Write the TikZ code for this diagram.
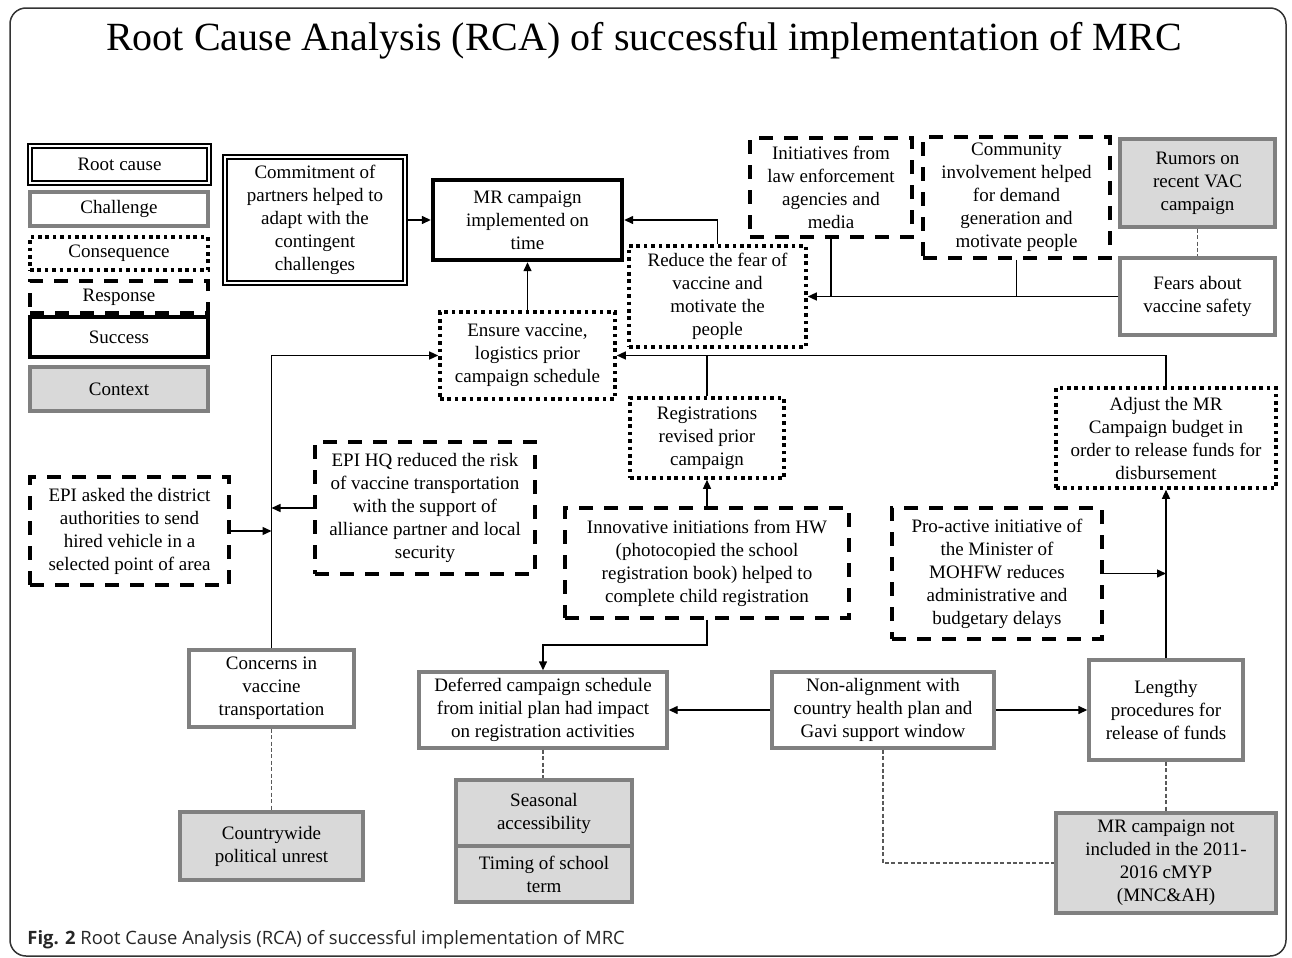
\documentclass[tikz,border=0pt]{standalone}
\usepackage{fontspec}
\setmainfont{Liberation Serif}
\newfontfamily\captfont{Open Sans}
\usetikzlibrary{arrows.meta,calc}
\newcommand\bx[7]{%
 \pgfmathsetmacro\bxw{(#5-#3)*0.5}%
 \pgfmathsetmacro\bxh{(#6-#4)*0.5}%
 \pgfmathsetmacro\bxx{(#3+#5)/2}%
 \pgfmathsetmacro\bxy{(#4+#6)/2}%
 \node[#2,minimum width=\bxw pt,minimum height=\bxh pt] (#1) at (\bxx,\bxy) {#7};}
\begin{document}
\begin{tikzpicture}[x=0.5pt,y=-0.5pt,
  every node/.style={align=center,inner sep=1pt,font=\fontsize{9.5}{11.5}\selectfont},
  rootc/.style={draw=black,double=white,line width=0.8pt,double distance=1.4pt},
  chall/.style={draw=black!50,line width=1.7pt},
  conseq/.style={draw=black,line width=1.8pt,dash pattern=on 1.8pt off 1.9pt},
  resp/.style={draw=black,line width=1.8pt,dash pattern=on 7pt off 5.5pt},
  succ/.style={draw=black,line width=2.2pt},
  ctx/.style={draw=black!50,fill=black!15,line width=1.7pt},
  arr/.style={draw=black,line width=0.7pt,-{Triangle[length=4.5pt,width=4pt]}},
  link/.style={draw=black,line width=0.7pt},
  ctxline/.style={draw=black!65,line width=0.6pt,dash pattern=on 2pt off 1.2pt}]
\useasboundingbox (0,0) rectangle (1292,958);
\draw[black!80,line width=0.75pt,rounded corners=8pt] (10,8) rectangle (1286,956);
\node[font=\fontsize{20}{24}\selectfont] (title) at (644,41) {Root Cause Analysis (RCA) of successful implementation of MRC};
\node[anchor=base west,text=black!85,font=\captfont\fontsize{9.2}{11}\selectfont] (capt) at (25,944) {\textbf{Fig. 2} Root Cause Analysis (RCA) of successful implementation of MRC};
% legend
\bx{Lroot}{rootc}{30}{146}{209}{183}{Root cause}
\bx{Lchal}{chall}{30}{192}{208}{226}{Challenge}
\bx{Lcons}{conseq}{30}{237}{208}{270}{Consequence}
\bx{Lresp}{resp}{30}{281}{208}{313}{Response}
\bx{Lsucc}{succ}{30}{317}{208}{357}{Success}
\bx{Lctx}{ctx}{30}{367}{208}{411}{Context}
% main boxes
\bx{Commit}{rootc}{225}{157}{405}{283}{Commitment of\\partners helped to\\adapt with the\\contingent\\challenges}
\bx{MR}{succ}{433}{180}{622}{260}{MR campaign\\implemented on\\time}
\bx{Init}{resp}{750}{138}{912}{237}{Initiatives from\\law enforcement\\agencies and\\media}
\bx{Comm}{resp}{923}{137}{1110}{258}{Community\\involvement helped\\for demand\\generation and\\motivate people}
\bx{Rumors}{ctx}{1120}{139}{1275}{227}{Rumors on\\recent VAC\\campaign}
\bx{Fears}{chall}{1120}{258}{1275}{335}{Fears about\\vaccine safety}
\bx{Reduce}{conseq}{629}{246}{806}{347}{Reduce the fear of\\vaccine and\\motivate the\\people}
\bx{Ensure}{conseq}{440}{312}{615}{399}{Ensure vaccine,\\logistics prior\\campaign schedule}
\bx{Reg}{conseq}{630}{398}{784}{478}{Registrations\\revised prior\\campaign}
\bx{Adjust}{conseq}{1056}{388}{1276}{488}{Adjust the MR\\Campaign budget in\\order to release funds for\\disbursement}
\bx{EPIa}{resp}{30}{477}{229}{585}{EPI asked the district\\authorities to send\\hired vehicle in a\\selected point of area}
\bx{EPIhq}{resp}{315}{442}{535}{574}{EPI HQ reduced the risk\\of vaccine transportation\\with the support of\\alliance partner and local\\security}
\bx{Innov}{resp}{565}{508}{849}{618}{Innovative initiations from HW\\(photocopied the school\\registration book) helped to\\complete child registration}
\bx{Pro}{resp}{892}{508}{1102}{639}{Pro-active initiative of\\the Minister of\\MOHFW reduces\\administrative and\\budgetary delays}
\bx{Concerns}{chall}{189}{650}{354}{727}{Concerns in\\vaccine\\transportation}
\bx{Deferred}{chall}{419}{672}{667}{748}{Deferred campaign schedule\\from initial plan had impact\\on registration activities}
\bx{NonAl}{chall}{772}{672}{994}{748}{Non-alignment with\\country health plan and\\Gavi support window}
\bx{Lengthy}{chall}{1089}{660}{1243}{760}{Lengthy\\procedures for\\release of funds}
\bx{Country}{ctx}{180}{812}{363}{880}{Countrywide\\political unrest}
\bx{Seasonal}{ctx}{456}{780}{632}{846}{Seasonal\\accessibility}
\bx{Timing}{ctx}{456}{846}{632}{902}{Timing of school\\term}
\bx{MRnot}{ctx}{1056}{813}{1276}{913}{MR campaign not\\included in the 2011-\\2016 cMYP\\(MNC\&AH)}
% connectors
\draw[arr] (Commit.east) -- (MR.west);
\draw[arr] (Reduce.north) |- (MR.east);
\draw[arr] (Ensure.north) -- (MR.south);
\draw[arr] (Fears.west) -- (Reduce.east);
\draw[link] (Init.south) -- (Init.south |- Reduce.east);
\draw[link] (Comm.south) -- (Comm.south |- Reduce.east);
\draw[ctxline] (Rumors.south) -- (Fears.north);
\draw[arr] (Adjust.north) |- (Ensure.east);
\draw[link] (Reg.north) -- (Reg.north |- Ensure.east);
\draw[arr] (Concerns.north) |- (Ensure.west);
\draw[arr] (EPIa.east) -- (EPIa.east -| Concerns.north);
\draw[arr] (EPIhq.west) -- (EPIhq.west -| Concerns.north);
\draw[arr] (Innov.north) -- (Reg.south);
\draw[arr] (Innov.south) -- ++(0,25) -| (Deferred.north);
\draw[arr] (NonAl.west) -- (Deferred.east);
\draw[arr] (NonAl.east) -- (Lengthy.west);
\draw[arr] (Lengthy.north) -- (Adjust.south);
\draw[arr] (Pro.east) -- (Pro.east -| Lengthy.north);
\draw[ctxline] (Concerns.south) -- (Concerns.south |- Country.north);
\draw[ctxline] (Deferred.south) -- (Deferred.south |- Seasonal.north);
\draw[ctxline] (NonAl.south) |- (MRnot.west);
\draw[ctxline] (Lengthy.south) -- (MRnot.north);
\end{tikzpicture}
\end{document}
